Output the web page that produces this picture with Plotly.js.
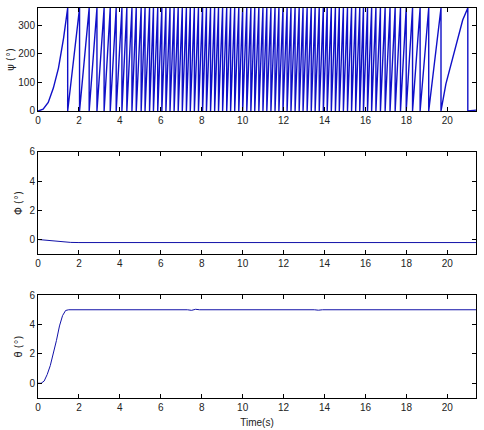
<!DOCTYPE html>
<html>
<head>
<meta charset="utf-8">
<script src="https://cdn.plot.ly/plotly-3.0.1.min.js"></script>
<style>
  html, body { margin: 0; padding: 0; background: #fff; }
  #chart { width: 484px; height: 430px; }
</style>
</head>
<body>
<div id="chart"></div>
<script>
// psi (yaw): first ramp from rest, then the times where it wraps 360 -> 0
const psiStartT = [0, 0.25, 0.5, 0.75, 1.0, 1.25, 1.45];
const psiStartV = [0, 6, 30, 80, 150, 255, 360];
const psiWrapT = [
  1.45, 2.03, 2.50, 2.88, 3.23, 3.53, 3.82, 4.10, 4.34, 4.59, 4.80, 5.04, 5.23, 5.45, 5.64, 5.85,
  6.05, 6.25, 6.45, 6.65, 6.85, 7.05, 7.25, 7.44, 7.64, 7.84, 8.04, 8.23, 8.43, 8.63, 8.82,
  9.02, 9.22, 9.41, 9.61, 9.81, 10.00, 10.20, 10.40, 10.59, 10.79, 10.99, 11.18, 11.38, 11.58,
  11.77, 11.97, 12.17, 12.36, 12.56, 12.76, 12.95, 13.15, 13.35, 13.54, 13.74, 13.94, 14.13,
  14.33, 14.53, 14.72, 14.92, 15.12, 15.32, 15.52, 15.72, 15.90, 16.10, 16.30, 16.51, 16.73,
  16.96, 17.20, 17.45, 17.71, 17.99, 18.30, 18.67, 19.09, 19.69
];
// last, slowing ramp and the tail after the final wrap
const psiEndT = [19.69, 19.93, 20.34, 20.75, 21.0, 21.0, 21.4];
const psiEndV = [0, 95, 210, 318, 360, 0, 3];

// phi (roll)
const phiT = [0, 0.4, 0.8, 1.2, 1.6, 2.0, 21.4];
const phiV = [0, -0.05, -0.11, -0.17, -0.2, -0.21, -0.21];

// theta (pitch)
const thetaT = [0, 0.15, 0.3, 0.45, 0.6, 0.75, 0.9, 1.05, 1.2, 1.35, 1.5, 7.3, 7.5, 7.7, 7.9, 13.5, 13.7, 13.9, 21.4];
const thetaV = [0, 0, 0.15, 0.6, 1.2, 2.0, 2.9, 3.9, 4.6, 4.95, 5.0, 5.0, 4.96, 5.03, 5.0, 5.0, 4.97, 5.0, 5.0];

const lineColor = '#1212a8';

// psi polyline: rise to 360, drop to 0 at every wrap
const psiX = psiStartT.slice(0, -1);
const psiY = psiStartV.slice(0, -1);
psiWrapT.forEach(t => { psiX.push(t, t); psiY.push(360, 0); });
psiEndT.slice(1).forEach((t, i) => { psiX.push(t); psiY.push(psiEndV[i + 1]); });

const traces = [
  { x: psiX, y: psiY, xaxis: 'x', yaxis: 'y', mode: 'lines',
    line: { color: '#1010c8', width: 1.4 }, hoverinfo: 'skip' },
  { x: phiT, y: phiV, xaxis: 'x2', yaxis: 'y2', mode: 'lines',
    line: { color: lineColor, width: 1 }, hoverinfo: 'skip' },
  { x: thetaT, y: thetaV, xaxis: 'x3', yaxis: 'y3', mode: 'lines',
    line: { color: lineColor, width: 1 }, hoverinfo: 'skip' }
];

const tickFont = { family: 'Liberation Sans, Arial, sans-serif', size: 10, color: '#222' };

function xAx(anchor) {
  return {
    anchor: anchor, domain: [0, 1], range: [0, 21.4], dtick: 2, tick0: 0,
    ticks: 'inside', ticklen: 4, tickcolor: '#000', mirror: 'ticks',
    showline: true, linecolor: '#000', linewidth: 1,
    showgrid: false, zeroline: false, tickfont: tickFont
  };
}
function yAx(anchor, domain, range, dtick, title, standoff) {
  return {
    anchor: anchor, domain: domain, range: range, dtick: dtick, tick0: 0,
    ticks: 'inside', ticklen: 4, tickcolor: '#000', mirror: 'ticks',
    showline: true, linecolor: '#000', linewidth: 1,
    showgrid: false, zeroline: false, tickfont: tickFont,
    title: { text: title, font: { family: 'DejaVu Sans, sans-serif', size: 10, color: '#222' }, standoff: standoff }
  };
}

const layout = {
  width: 484, height: 430,
  margin: { l: 38, r: 8, t: 8, b: 32 },
  paper_bgcolor: '#fff', plot_bgcolor: '#fff',
  showlegend: false,
  xaxis: xAx('y'),
  xaxis2: xAx('y2'),
  xaxis3: Object.assign(xAx('y3'), {
    title: { text: 'Time(s)', font: { family: 'Liberation Sans, Arial, sans-serif', size: 10, color: '#222' }, standoff: 6 }
  }),
  yaxis: yAx('x', [0.736, 1], [0, 360], 100, 'ψ (°)', 1),
  yaxis2: yAx('x2', [0.369, 0.631], [-1, 6], 2, 'Φ (°)', 4),
  yaxis3: yAx('x3', [0, 0.264], [-1, 6], 2, 'θ (°)', 4)
};

Plotly.newPlot('chart', traces, layout, { displayModeBar: false, staticPlot: true });
</script>
</body>
</html>
